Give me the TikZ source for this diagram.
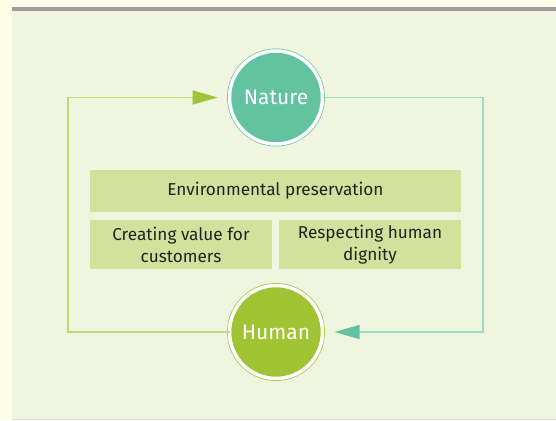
\documentclass[tikz,border=0pt]{standalone}
\usepackage{fontspec}
\setmainfont{Fira Sans}
\usetikzlibrary{arrows.meta, positioning, calc}
\definecolor{pagecream}{HTML}{FEFDE6}
\definecolor{panelgreen}{HTML}{F0F5E0}
\definecolor{cellgreen}{HTML}{D2E29C}
\definecolor{natureteal}{HTML}{63C3A0}
\definecolor{humangreen}{HTML}{A0C434}
\definecolor{tealline}{HTML}{9FDAC3}
\definecolor{greenline}{HTML}{BED97E}
\definecolor{textdark}{HTML}{222222}

\begin{document}
\begin{tikzpicture}[x=1pt, y=-1pt,
        cell/.style={rectangle, fill=cellgreen, inner sep=0pt, align=center, text=textdark, font=\fontsize{17.2}{21.7}\selectfont},
        hub/.style={circle, draw=#1, fill=#1, line width=0.7pt, double=white, double distance=3.5pt, minimum size=93pt, inner sep=0pt, outer sep=0pt, text=white, font=\fontsize{21}{25}\selectfont},
        link/.style={line width=1.1pt}
    ]
        % Fondo
        \useasboundingbox (0,0) rectangle (556,420);
        \fill[pagecream] (0,0) rectangle (556,420);
        \fill[panelgreen] (12,11) rectangle (556,420);
        \fill[black!38] (12,7) rectangle (556,11);
        \fill[black!13] (12,418.5) rectangle (556,420);

        % Nodos
        \node[hub=natureteal] (nature) at (276,97.5) {Nature};
        \node[hub=humangreen] (human) at (276,332) {Human};

        \node[cell, minimum width=371pt, minimum height=42pt] (env) at (275.5,191) {Environmental preservation};
        \node[cell, minimum width=182pt, minimum height=49pt, below=8pt of env.south west, anchor=north west] (value) {Creating value for\\customers};
        \node[cell, minimum width=182pt, minimum height=49pt, below=8pt of env.south east, anchor=north east] (dignity) {Respecting human\\dignity};

        \coordinate (leftrail) at (68,0);
        \coordinate (rightrail) at (483,0);

        % Conexiones
        \draw[link, greenline, -{Triangle[length=25pt, width=14pt, color=humangreen]}, shorten >=12pt]
            (human.west) -| (leftrail |- nature.west) -- (nature.west);
        \draw[link, tealline, -{Triangle[length=25pt, width=14pt, color=natureteal]}, shorten >=12pt]
            (nature.east) -| (rightrail |- human.east) -- (human.east);
    \end{tikzpicture}
\end{document}
